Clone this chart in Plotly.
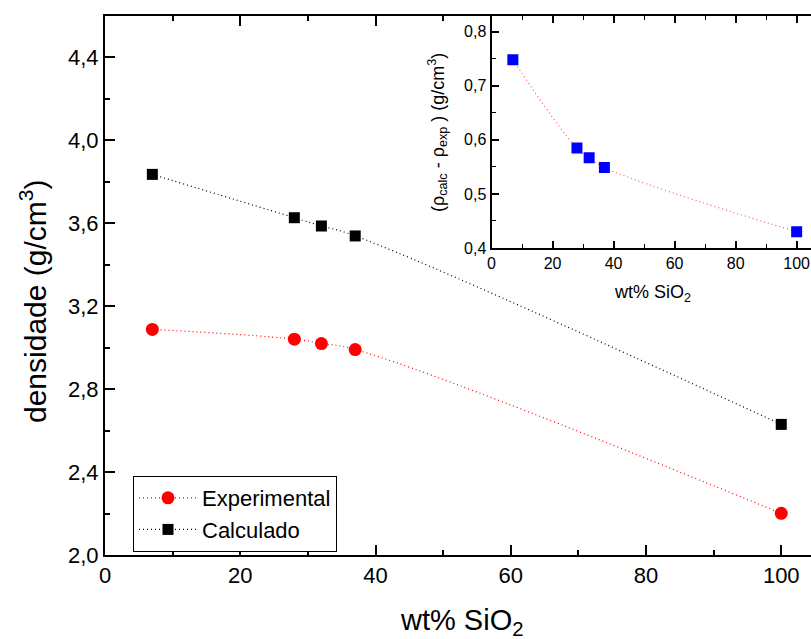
import plotly.graph_objects as go

# ---- data ----
wt_sio2 = [7, 28, 32, 37, 100]
dens_exp = [3.088, 3.041, 3.020, 2.991, 2.201]
dens_calc = [3.836, 3.627, 3.587, 3.539, 2.630]
dens_diff = [0.748, 0.585, 0.567, 0.549, 0.430]

main_xticks = [0, 20, 40, 60, 80, 100]
main_yticks = [2.0, 2.4, 2.8, 3.2, 3.6, 4.0, 4.4]
inset_yticks = [0.4, 0.5, 0.6, 0.7, 0.8]

W, H = 811, 639
FONT = "Liberation Sans, Arial, sans-serif"


def px_x(p):
    return p / W


def px_y(p):
    return 1 - p / H


fig = go.Figure()

fig.add_trace(go.Scatter(
    x=wt_sio2, y=dens_exp, name="Experimental", mode="lines+markers",
    line=dict(color="red", width=1.2, dash="1px,3px", shape="spline", smoothing=1.3),
    marker=dict(symbol="circle", size=13, color="red"),
    xaxis="x", yaxis="y"))
fig.add_trace(go.Scatter(
    x=wt_sio2, y=dens_calc, name="Calculado", mode="lines+markers",
    line=dict(color="black", width=1.2, dash="1px,3px", shape="spline", smoothing=1.3),
    marker=dict(symbol="square", size=11, color="black"),
    xaxis="x", yaxis="y"))
fig.add_trace(go.Scatter(
    x=wt_sio2, y=dens_diff, name="diff", mode="lines+markers", showlegend=False,
    line=dict(color="#ff6060", width=1.2, dash="1px,3px", shape="spline", smoothing=1.3),
    marker=dict(symbol="square", size=11, color="#0000ff"),
    xaxis="x2", yaxis="y2"))

top = px_y(16)
axis_common = dict(showgrid=False, zeroline=False, showline=True, linecolor="black",
                   linewidth=2, ticks="inside", tickcolor="black", tickwidth=1.5,
                   color="black", automargin=False)

fig.update_layout(
    width=W, height=H, autosize=False,
    margin=dict(l=0, r=0, t=0, b=0, autoexpand=False),
    paper_bgcolor="white", plot_bgcolor="white",
    separators=",.",
    font=dict(family=FONT, color="black"),
    xaxis=dict(axis_common, domain=[px_x(105), 1], range=[0, 104.4],
               tickvals=main_xticks, ticklen=10, mirror="ticks",
               minor=dict(ticks="inside", ticklen=5, dtick=10, tick0=0,
                          tickcolor="black", tickwidth=1.5),
               tickfont=dict(size=22), anchor="y"),
    yaxis=dict(axis_common, domain=[px_y(555), top], range=[2.0, 4.6],
               tickvals=main_yticks, tickformat=".1f", ticklen=10,
               minor=dict(ticks="inside", ticklen=5, dtick=0.2, tick0=2.0,
                          tickcolor="black", tickwidth=1.5),
               tickfont=dict(size=22), anchor="x"),
    xaxis2=dict(axis_common, domain=[px_x(491.5), 1], range=[0, 104.7],
                tickvals=main_xticks, ticklen=7, mirror="ticks",
                minor=dict(ticks="inside", ticklen=4, dtick=10, tick0=0,
                           tickcolor="black", tickwidth=1.2),
                tickfont=dict(size=16), anchor="y2"),
    yaxis2=dict(axis_common, domain=[px_y(248), top], range=[0.4, 0.829],
                tickvals=inset_yticks, tickformat=".1f", ticklen=7,
                minor=dict(ticks="inside", ticklen=4, dtick=0.05, tick0=0.4,
                           tickcolor="black", tickwidth=1.2),
                tickfont=dict(size=16), anchor="x2"),
    legend=dict(x=px_x(133), y=px_y(476), xanchor="left", yanchor="top",
                bordercolor="black", borderwidth=1, bgcolor="white",
                font=dict(size=22), itemwidth=58, traceorder="normal"),
    showlegend=True,
)

annotations = [
    dict(text="densidade (g/cm<sup>3</sup>)", x=px_x(33), y=px_y(302),
         textangle=-90, font=dict(size=30)),
    dict(text="wt% SiO<sub>2</sub>", x=px_x(462), y=px_y(622), font=dict(size=29)),
    dict(text="(ρ<sub>calc</sub> - ρ<sub>exp</sub> ) (g/cm<sup>3</sup>)", x=px_x(437),
         y=px_y(133), textangle=-90, font=dict(size=18)),
    dict(text="wt% SiO<sub>2</sub>", x=px_x(652), y=px_y(293), font=dict(size=18)),
]
for a in annotations:
    fig.add_annotation(xref="paper", yref="paper", showarrow=False,
                       xanchor="center", yanchor="middle", **a)

fig.write_html("out.html")
